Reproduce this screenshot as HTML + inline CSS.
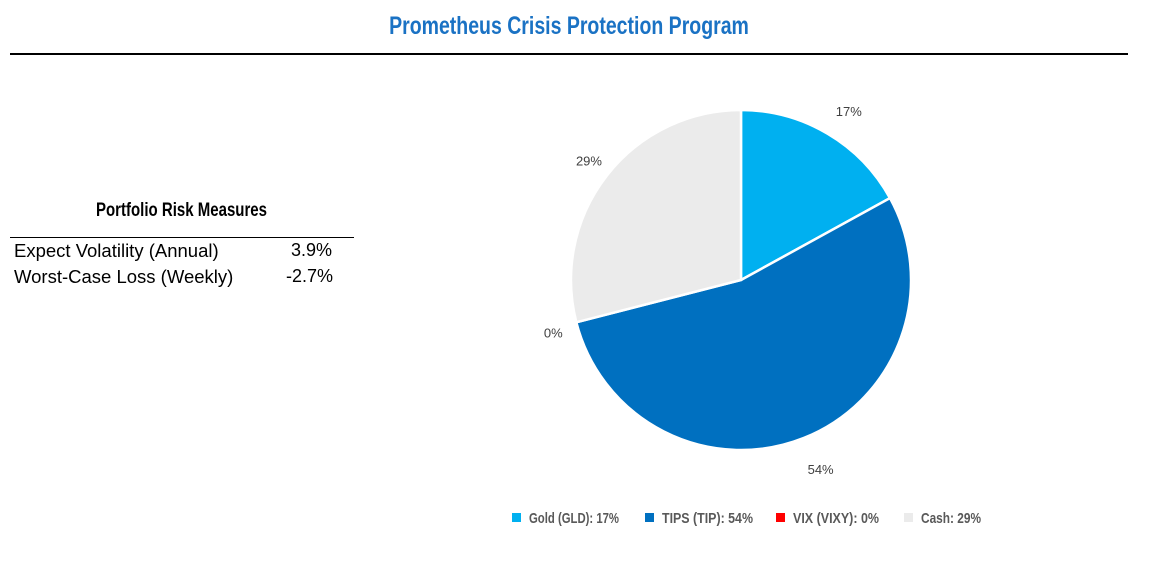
<!DOCTYPE html>
<html><head><meta charset="utf-8"><style>
body{margin:0;width:1151px;height:568px;background:#fff;position:relative;overflow:hidden;font-family:"Liberation Sans",sans-serif}
.t{position:absolute;left:0;width:1138px;top:12px;text-align:center;font-family:"Liberation Sans Narrow","Liberation Sans",sans-serif;font-weight:bold;font-size:25px;color:#1a72c4;transform:scaleX(0.78);transform-origin:569px 0}
.rule{position:absolute;left:10px;top:53px;width:1118px;height:2px;background:#000}
.rm{position:absolute;left:96px;top:200px;font-family:"Liberation Sans Narrow","Liberation Sans",sans-serif;font-weight:bold;font-size:19px;color:#000;transform:scaleX(0.79);transform-origin:0 0;white-space:nowrap}
.row{position:absolute;left:14px;font-size:18.5px;color:#000;white-space:nowrap}
.v{position:absolute;font-size:18px}
</style></head><body>
<div class="t">Prometheus Crisis Protection Program</div>
<div class="rule"></div>
<div class="rm">Portfolio Risk Measures</div>
<div style="position:absolute;left:10px;top:237px;width:344px;height:1px;background:#000"></div>
<div class="row" style="top:240px">Expect Volatility (Annual)</div>
<div class="v" style="left:291px;top:240px">3.9%</div>
<div class="row" style="top:266px">Worst-Case Loss (Weekly)</div>
<div class="v" style="left:286px;top:266px">-2.7%</div>
<svg id="pie" width="1151" height="568" style="position:absolute;left:0;top:0"></svg>
<script>
const categories=["Gold (GLD)","TIPS (TIP)","VIX (VIXY)","Cash"];
const values=[17,54,0,29];
const colors=["#00b0f0","#0070c0","#ff0000","#ebebeb"];
const svg=document.getElementById('pie');
const NS="http://www.w3.org/2000/svg";
const cx=741,cy=280,r=170;
const total=values.reduce((a,b)=>a+b,0);
let a0=0;
function pt(a,rr){return [cx+rr*Math.sin(a),cy-rr*Math.cos(a)];}
values.forEach((v,i)=>{
  const a1=a0+v/total*2*Math.PI;
  if(v>0){
    const p=document.createElementNS(NS,'path');
    const [x0,y0]=pt(a0,r),[x1,y1]=pt(a1,r);
    p.setAttribute('d',`M${cx},${cy}L${x0},${y0}A${r},${r} 0 ${a1-a0>Math.PI?1:0} 1 ${x1},${y1}Z`);
    p.setAttribute('fill',colors[i]);p.setAttribute('stroke','#fff');p.setAttribute('stroke-width','2.5');
    
    
    svg.appendChild(p);
  }
  const am=(a0+a1)/2;const [lx,ly]=pt(am,r+30);
  const t=document.createElementNS(NS,'text');
  t.setAttribute('x',lx+6);t.setAttribute('y',ly+8);t.setAttribute('text-anchor','middle');
  t.setAttribute('font-size','13');t.setAttribute('fill','#404040');t.setAttribute('font-family','Liberation Sans, sans-serif');
  t.textContent=v+'%';
  
  
  svg.appendChild(t);
  a0=a1;
});
const lxs=[512,645,776,904];
categories.forEach((c,i)=>{
  const s=document.createElementNS(NS,'rect');
  s.setAttribute('x',lxs[i]);s.setAttribute('y',513);s.setAttribute('width',9);s.setAttribute('height',9);s.setAttribute('fill',colors[i]);
  
  
  svg.appendChild(s);
  const t=document.createElementNS(NS,'text');
  t.setAttribute('x',lxs[i]+17);t.setAttribute('y',523);t.setAttribute('font-size','15');t.setAttribute('font-weight','bold');
  t.setAttribute('fill','#595959');t.setAttribute('font-family','Liberation Sans Narrow, Liberation Sans, sans-serif');
  t.setAttribute('textLength',[90,91,86,60][i]);t.setAttribute('lengthAdjust','spacingAndGlyphs');
  t.textContent=c+': '+values[i]+'%';
  
  
  svg.appendChild(t);
});
</script>
</body></html>
